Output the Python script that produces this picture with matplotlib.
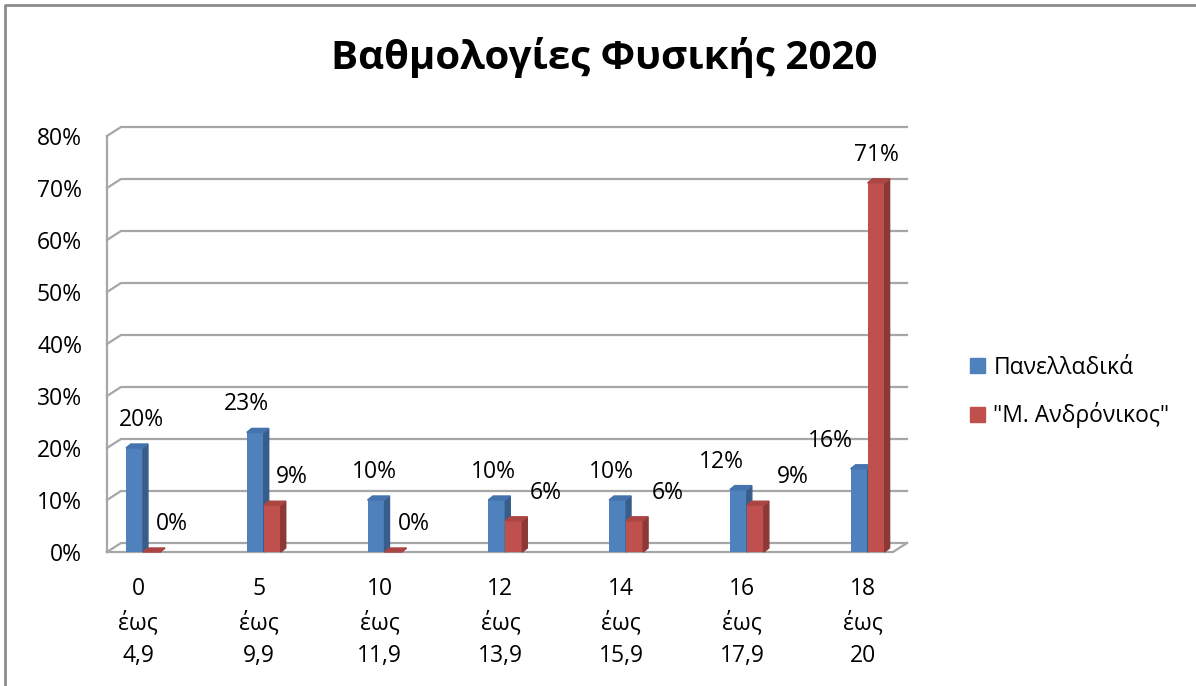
import numpy as np
import matplotlib.pyplot as plt
from matplotlib.patches import Polygon, Patch

plt.rcParams['font.family'] = ['Open Sans', 'DejaVu Sans']

categories = ["0\nέως\n4,9", "5\nέως\n9,9", "10\nέως\n11,9", "12\nέως\n13,9",
              "14\nέως\n15,9", "16\nέως\n17,9", "18\nέως\n20"]
panelladika = [20, 23, 10, 10, 10, 12, 16]
andronikos = [0, 9, 0, 6, 6, 9, 71]
series_names = ["Πανελλαδικά", '"Μ. Ανδρόνικος"']
yticks = [0, 10, 20, 30, 40, 50, 60, 70, 80]

W, H = 1196, 686
fs = 16.5
fig = plt.figure(figsize=(W / 100, H / 100), dpi=100)
ax = fig.add_axes([107 / W, (H - 552) / H, (893 - 107) / W, 416 / H])

x0, x1 = -0.298, 6.21
ax.set_xlim(x0, x1)
ax.set_ylim(0, 80)
for s in ax.spines.values():
    s.set_visible(False)

# pseudo 3D offsets (data units)
gdx, gdy = 0.116, 1.73   # back wall
bdx, bdy = 0.041, 0.77   # bar depth
bw = 0.141
grid_c = '#a6a6a6'

# gridlines on the back wall + floor
for v in yticks:
    ax.plot([x0, x0 + gdx, x1 + gdx], [v, v + gdy, v + gdy], color=grid_c,
            lw=1.6, clip_on=False, zorder=1)
ax.plot([x0, x0], [0, 80], color=grid_c, lw=1.6, clip_on=False, zorder=1)
ax.plot([x0, x1, x1 + gdx], [0, 0, gdy], color=grid_c, lw=1.6,
        clip_on=False, zorder=1)

x = np.arange(len(categories))
styles = [
    (panelladika, -bw / 2, '#4F81BD', '#385D8A', '#4573AD'),
    (andronikos, bw / 2, '#C0504D', '#8C3836', '#A94643'),
]
for vals, shift, front, side, top in styles:
    bars = ax.bar(x + shift, vals, width=bw, color=front, zorder=3)
    for b in bars:
        bx, by, h = b.get_x(), b.get_y(), b.get_height()
        r = bx + bw
        ax.add_patch(Polygon([(r, by), (r + bdx, by + bdy), (r + bdx, h + bdy), (r, h)],
                             closed=True, color=side, zorder=3, clip_on=False))
        ax.add_patch(Polygon([(bx, h), (bx + bdx, h + bdy), (r + bdx, h + bdy), (r, h)],
                             closed=True, color=top, zorder=3, clip_on=False))

# value labels (pixel offsets as in the original 3D layout)
blue_off = [7, -9, -2, -3, -6, -17, -29]
red_off = [20, 20, 21, 32, 33, 37, 0]
for i in range(len(categories)):
    ax.annotate(f"{panelladika[i]}%", (x[i] - bw / 2, panelladika[i]),
                xytext=(blue_off[i] * 0.72, 28 * 0.72), textcoords='offset points',
                ha='center', va='center', fontsize=fs, zorder=5)
    ax.annotate(f"{andronikos[i]}%", (x[i] + bw / 2, andronikos[i]),
                xytext=(red_off[i] * 0.72, 28 * 0.72), textcoords='offset points',
                ha='center', va='center', fontsize=fs, zorder=5)

ax.set_yticks(yticks)
ax.set_yticklabels([f"{v}%" for v in yticks], fontsize=fs)
ax.set_xticks(x - 0.04)
ax.set_xticklabels(categories, fontsize=fs, linespacing=1.5)
ax.tick_params(axis='y', length=0, pad=18)
ax.tick_params(axis='x', length=0, pad=18)

fig.text(604 / W, (H - 58) / H, "Βαθμολογίες Φυσικής 2020", ha='center', va='center',
         fontsize=29, fontweight='bold')

handles = [Patch(color='#4F81BD'), Patch(color='#C0504D')]
fig.legend(handles, series_names, loc='center left',
           bbox_to_anchor=(959 / W, (H - 392) / H), frameon=False, fontsize=fs,
           handlelength=0.65, handleheight=0.65, handletextpad=0.35, labelspacing=1.0,
           borderpad=0)

# outer chart frame (top and left edges visible)
fig.add_artist(plt.Line2D([5 / W, 5 / W, 1], [0, (H - 5) / H, (H - 5) / H],
                          transform=fig.transFigure, color='#8c8c8c', lw=2))

fig.savefig('out.png', dpi=100)
